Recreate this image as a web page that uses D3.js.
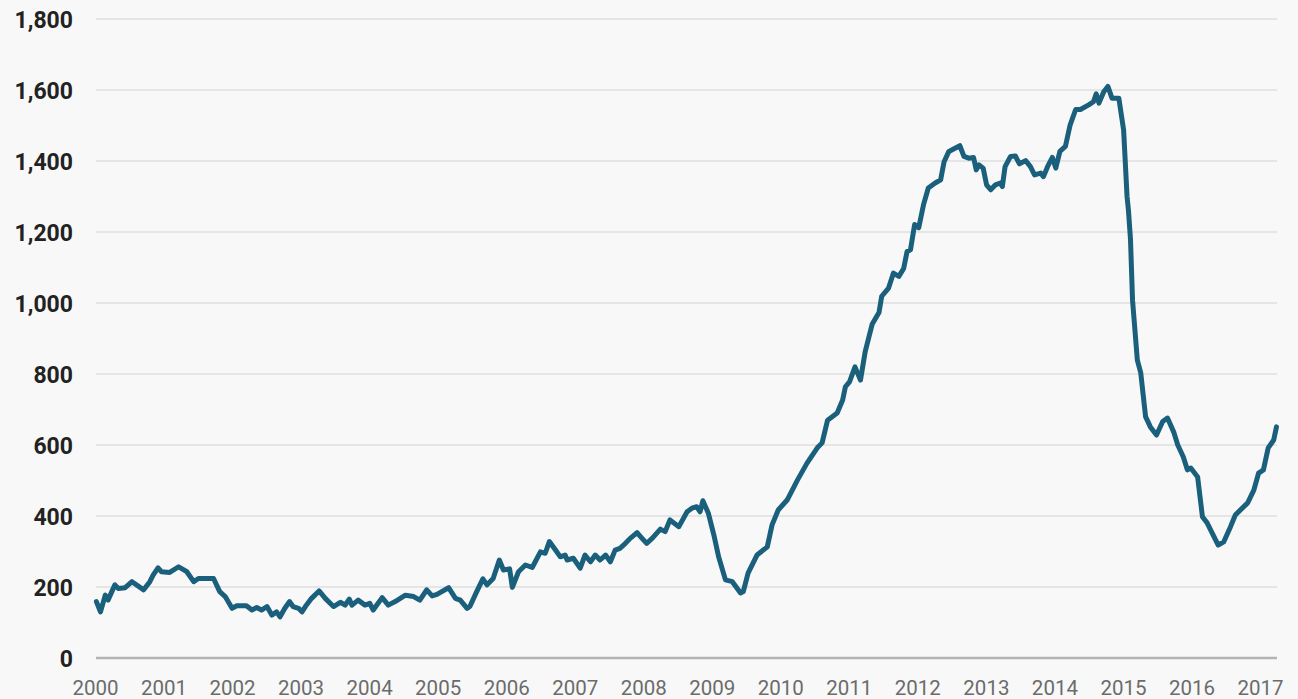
<!DOCTYPE html>
<html>
<head>
<meta charset="utf-8">
<script src="https://cdnjs.cloudflare.com/ajax/libs/d3/7.8.5/d3.min.js"></script>
<style>
  html, body { margin: 0; padding: 0; background: #f8f8f8; }
  svg { display: block; }
  svg text { font-family: Roboto, "Noto Sans", sans-serif; }
</style>
</head>
<body>
<svg id="chart"></svg>
<script>
// weekly oil rig count (decimal year, rigs)
let dates = [
  2000.02, 2000.08, 2000.15, 2000.19, 2000.29, 2000.34, 2000.44, 2000.54, 2000.71, 2000.80,
  2000.85, 2000.92, 2000.97, 2001.09, 2001.22, 2001.34, 2001.44, 2001.51, 2001.73, 2001.82,
  2001.90, 2002.00, 2002.07, 2002.21, 2002.29, 2002.36, 2002.43, 2002.51, 2002.58, 2002.65,
  2002.70, 2002.77, 2002.84, 2002.89, 2002.97, 2003.02, 2003.07, 2003.16, 2003.27, 2003.36,
  2003.48, 2003.58, 2003.65, 2003.71, 2003.75, 2003.84, 2003.94, 2004.01, 2004.06, 2004.19,
  2004.28, 2004.38, 2004.53, 2004.65, 2004.74, 2004.84, 2004.92, 2004.99, 2005.06, 2005.16,
  2005.26, 2005.33, 2005.43, 2005.47, 2005.57, 2005.66, 2005.72, 2005.81, 2005.90, 2005.96,
  2006.05, 2006.09, 2006.18, 2006.28, 2006.38, 2006.50, 2006.57, 2006.63, 2006.72, 2006.79,
  2006.86, 2006.89, 2006.98, 2007.08, 2007.15, 2007.23, 2007.30, 2007.37, 2007.45, 2007.52,
  2007.59, 2007.66, 2007.74, 2007.81, 2007.91, 2007.96, 2008.05, 2008.13, 2008.25, 2008.32,
  2008.39, 2008.52, 2008.64, 2008.71, 2008.78, 2008.83, 2008.87, 2008.95, 2009.03, 2009.10,
  2009.20, 2009.30, 2009.42, 2009.46, 2009.53, 2009.66, 2009.81, 2009.88, 2009.97, 2010.10,
  2010.25, 2010.39, 2010.54, 2010.61, 2010.69, 2010.83, 2010.91, 2010.95, 2011.01, 2011.09,
  2011.17, 2011.24, 2011.29, 2011.34, 2011.44, 2011.48, 2011.58, 2011.65, 2011.73, 2011.80,
  2011.85, 2011.90, 2011.96, 2012.02, 2012.09, 2012.16, 2012.26, 2012.34, 2012.39, 2012.46,
  2012.55, 2012.62, 2012.68, 2012.75, 2012.82, 2012.86, 2012.90, 2012.96, 2013.01, 2013.07,
  2013.14, 2013.21, 2013.24, 2013.28, 2013.36, 2013.43, 2013.49, 2013.58, 2013.65, 2013.71,
  2013.80, 2013.84, 2013.90, 2013.97, 2014.02, 2014.08, 2014.16, 2014.23, 2014.31, 2014.38,
  2014.50, 2014.57, 2014.61, 2014.65, 2014.72, 2014.78, 2014.84, 2014.94, 2015.01, 2015.06,
  2015.08, 2015.11, 2015.14, 2015.21, 2015.26, 2015.33, 2015.40, 2015.49, 2015.58, 2015.65,
  2015.74, 2015.80, 2015.88, 2015.94, 2015.99, 2016.09, 2016.16, 2016.23, 2016.39, 2016.47,
  2016.57, 2016.64, 2016.82, 2016.91, 2016.98, 2017.05, 2017.12, 2017.20, 2017.24
]
let rigs = [
  159, 130, 177, 163, 206, 196, 198, 215, 192, 215,
  234, 254, 243, 241, 257, 243, 215, 224, 224, 187,
  173, 140, 147, 147, 135, 142, 135, 145, 121, 130,
  116, 140, 159, 145, 140, 130, 145, 168, 189, 168,
  145, 157, 149, 166, 149, 163, 149, 154, 135, 170,
  149, 159, 177, 173, 163, 192, 175, 179, 187, 198,
  168, 163, 140, 145, 187, 223, 206, 224, 276, 248,
  251, 199, 243, 262, 255, 299, 295, 328, 304, 285,
  290, 276, 281, 253, 290, 271, 290, 276, 290, 271,
  304, 309, 323, 337, 353, 342, 323, 337, 363, 356,
  389, 370, 412, 422, 426, 412, 443, 408, 347, 285,
  220, 215, 183, 187, 239, 290, 313, 375, 417, 445,
  501, 549, 592, 606, 670, 690, 727, 764, 778, 820,
  783, 864, 902, 940, 973, 1019, 1042, 1084, 1075, 1097,
  1145, 1150, 1221, 1212, 1277, 1324, 1338, 1347, 1398, 1427,
  1436, 1443, 1413, 1408, 1410, 1375, 1389, 1380, 1333, 1319,
  1333, 1338, 1328, 1384, 1413, 1414, 1392, 1401, 1384, 1361,
  1366, 1356, 1384, 1410, 1380, 1427, 1441, 1502, 1545, 1545,
  1558, 1567, 1589, 1563, 1595, 1610, 1577, 1577, 1487, 1300,
  1262, 1180, 1008, 839, 803, 680, 651, 628, 666, 676,
  637, 600, 567, 530, 535, 510, 398, 380, 318, 327,
  370, 403, 437, 473, 521, 530, 592, 614, 651
]
let yearTicks = d3.range(2000, 2018)
let valueTicks = [0, 200, 400, 600, 800, 1000, 1200, 1400, 1600, 1800]

let svg = d3.select("#chart")
svg.attr("width", 1298).attr("height", 699)

function translate(x, y){
    return "translate(" + x + ", " + y + ")"
}

let x = d3.scaleLinear().domain([2000, 2017]).range([95, 1260]),
    y = d3.scaleLinear().domain([0, 1800]).range([658, 19])

let data = dates.map((d, i) => ({date: d, value: rigs[i]}))

// horizontal grid
svg.append("g").selectAll("line").data(valueTicks.filter(v => v > 0))
    .enter().append("line")
    .attr("x1", 96).attr("x2", 1277)
    .attr("y1", d => y(d)).attr("y2", d => y(d))
    .style("stroke", "#e5e5e5")
    .style("stroke-width", 2)

// baseline
svg.append("line")
    .attr("x1", 96).attr("x2", 1277)
    .attr("y1", y(0)).attr("y2", y(0))
    .style("stroke", "#b3b3b3")
    .style("stroke-width", 2.5)

let yAxis = d3.axisLeft(y).tickValues(valueTicks).tickFormat(d3.format(",")).tickSize(0).tickPadding(0)
let gy = svg.append("g").attr("transform", translate(73, 1)).call(yAxis)
gy.select(".domain").remove()
gy.selectAll("text")
    .style("font-family", "Roboto, 'Noto Sans', sans-serif")
    .style("font-size", "23px")
    .style("font-weight", "bold")
    .style("fill", "#222")

let xAxis = d3.axisBottom(x).tickValues(yearTicks).tickFormat(d3.format("d")).tickSize(0).tickPadding(0)
let gx = svg.append("g").attr("transform", translate(0, 680)).call(xAxis)
gx.select(".domain").remove()
gx.selectAll("text")
    .style("font-family", "Roboto, 'Noto Sans', sans-serif")
    .style("font-size", "20.5px")
    .style("fill", "#6b6b6b")

let line = d3.line().x(d => x(d.date)).y(d => y(d.value))

svg.append("path")
    .datum(data)
    .attr("d", line)
    .style("fill", "none")
    .style("stroke", "#1a5f7b")
    .style("stroke-width", 5)
    .style("stroke-linejoin", "round")
    .style("stroke-linecap", "round")
</script>
</body>
</html>
